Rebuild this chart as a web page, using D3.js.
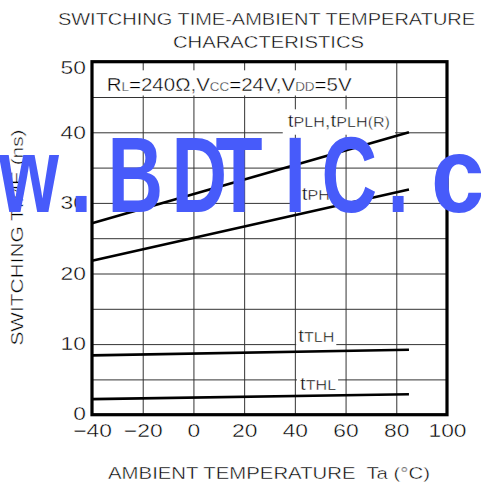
<!DOCTYPE html>
<html>
<head>
<meta charset="utf-8">
<script src="https://cdn.jsdelivr.net/npm/d3@7"></script>
<style>
  body { margin: 0; background: #fff; }
  svg { display: block; }
  text { font-family: "Liberation Sans", Arial, Helvetica, sans-serif; fill: #000; }
  .thin text, text.thin { stroke: #fff; stroke-width: 0.4px; }
</style>
</head>
<body>
<svg id="chart"></svg>
<script>
// data (ns vs ambient temperature)
const temps = [-40, 85];
const tPLH = [27.1, 40.0];
const tPHL = [21.8, 31.9];
const tTLH = [8.4, 9.2];
const tTHL = [2.2, 2.9];

const xTicks = [-40, -20, 0, 20, 40, 60, 80, 100];
const yTicks = [0, 10, 20, 30, 40, 50];
const xGrid = d3.range(-40, 101, 20);
const yGrid = d3.range(0, 51, 5);

const series = [tPLH, tPHL, tTLH, tTHL];

const width = 481, height = 490;
const margin = {top: 61.7, right: 34, bottom: 75.3, left: 92};

const svg = d3.select("#chart").attr("width", width).attr("height", height);

const x = d3.scaleLinear().domain([-40, 100]).range([margin.left, width - margin.right]);
const y = d3.scaleLinear().domain([0, 50]).range([height - margin.bottom, margin.top]);

// text helper: glyphs in the original are wide, so stretch horizontally
function stretchText(parent, px, py, parts, opts) {
  const g = parent.append("g").attr("class", "thin");
  const t = g.append("text").attr("text-anchor", opts.anchor || "start")
    .attr("xml:space", "preserve").style("white-space", "pre");
  parts.forEach(([s, size]) => t.append("tspan").attr("font-size", size).text(s));
  let sx = opts.sx || 1;
  if (opts.width) sx = opts.width / t.node().getComputedTextLength();
  g.attr("transform", `translate(${px},${py}) rotate(${opts.rotate || 0}) scale(${sx},1)`);
  if (opts.pad) {
    const b = t.node().getBBox();
    const [pl, pt, pr, pb] = opts.pad;
    g.insert("rect", "text")
      .attr("x", b.x - pl / sx).attr("y", b.y - pt)
      .attr("width", b.width + (pl + pr) / sx).attr("height", b.height + pt + pb)
      .attr("fill", "#fff");
  }
  return g;
}

// grid
svg.append("g")
  .attr("transform", `translate(0,${y(0)})`)
  .call(d3.axisBottom(x).tickValues(xGrid).tickSize(-(y(0) - y(50))).tickFormat(""))
  .call(g => g.select(".domain").remove())
  .call(g => g.selectAll("line").attr("stroke", "#333").attr("stroke-width", 1));

svg.append("g")
  .attr("transform", `translate(${x(-40)},0)`)
  .call(d3.axisLeft(y).tickValues(yGrid).tickSize(-(x(100) - x(-40))).tickFormat(""))
  .call(g => g.select(".domain").remove())
  .call(g => g.selectAll("line").attr("stroke", "#333").attr("stroke-width", 1));

// tick labels
const tickSx = 1.27;
svg.append("g")
  .attr("class", "thin")
  .attr("transform", `translate(0,${y(0)})`)
  .call(d3.axisBottom(x).tickValues(xTicks).tickSize(0).tickPadding(9.5))
  .call(g => g.select(".domain").remove())
  .attr("font-size", 18).attr("font-family", null)
  .call(g => g.selectAll("text").attr("transform", `scale(${tickSx},1)`));

svg.append("g")
  .attr("class", "thin")
  .attr("transform", `translate(${x(-40)},0)`)
  .call(d3.axisLeft(y).tickValues(yTicks).tickSize(0).tickPadding(6))
  .call(g => g.select(".domain").remove())
  .attr("font-size", 18).attr("font-family", null)
  .call(g => g.selectAll("text")
    .attr("x", -6 / tickSx)
    .attr("dy", d => d === 50 ? "0.67em" : d === 0 ? "0.26em" : "0.32em")
    .attr("transform", `scale(${tickSx},1)`));

// condition box
stretchText(svg, x(-34.2), y(45.9),
  [["R", 19], ["L", 12.5], ["=240Ω,V", 19], ["CC", 12.5], ["=24V,V", 19], ["DD", 12.5], ["=5V", 19]],
  {width: 245, pad: [6, 3, 2, 1]});

// curve labels
const curveLabels = [
  {at: [37.2, 40.75], parts: [["t", 18], ["PLH", 14], [",", 18], ["t", 18], ["PLH", 14], ["(R)", 14]], pad: [5, 1, 5, 4]},
  {at: [42.7, 30.4], parts: [["t", 18], ["PHL", 14]], pad: [8, 1, 4, 4]},
  {at: [41.3, 10.34], parts: [["t", 18], ["TLH", 14]], pad: [2, 1, 2, 1]},
  {at: [42.0, 3.5], parts: [["t", 18], ["THL", 14]], pad: [3, 1, 2, 1]}
];
curveLabels.forEach(l => stretchText(svg, x(l.at[0]), y(l.at[1]), l.parts, {sx: 1.15, pad: l.pad}));

// curves
const line = d3.line().x((d, i) => x(temps[i])).y(d => y(d));
svg.append("g")
  .selectAll("path")
  .data(series)
  .join("path")
  .attr("d", line)
  .attr("fill", "none")
  .attr("stroke", "#000")
  .attr("stroke-width", 2.6);

// frame
svg.append("rect")
  .attr("x", x(-40)).attr("y", y(50))
  .attr("width", x(100) - x(-40)).attr("height", y(0) - y(50))
  .attr("fill", "none").attr("stroke", "#000").attr("stroke-width", 3.2);

// titles
stretchText(svg, 266.5, 25, [["SWITCHING TIME-AMBIENT TEMPERATURE", 16.3]], {anchor: "middle", width: 417});
stretchText(svg, 268.5, 48, [["CHARACTERISTICS", 16.3]], {anchor: "middle", width: 191});
stretchText(svg, 269, 479, [["AMBIENT TEMPERATURE  Ta (°C)", 16.5]], {anchor: "middle", width: 322});
stretchText(svg, 23, 237.5, [["SWITCHING TIME (ns)", 16.3]], {anchor: "middle", width: 216, rotate: -90});

// watermark overlay
const wmColor = "#475bfa";
const wmSx = 0.72;
const wmX = [-1, 70.5, 107.6, 171.6, 215.5, 284.6, 321.5, 387.5];
svg.append("text")
  .attr("transform", `scale(${wmSx},1)`)
  .attr("x", wmX.map(v => v / wmSx).join(" "))
  .attr("y", 212)
  .attr("font-size", 107)
  .attr("font-weight", "bold")
  .style("fill", wmColor)
  .text("w.BDTIC.");
svg.append("text")
  .attr("transform", "translate(431,212) scale(0.9,1)")
  .attr("font-size", 107)
  .attr("font-weight", "bold")
  .style("fill", wmColor)
  .text("com");
</script>
</body>
</html>
